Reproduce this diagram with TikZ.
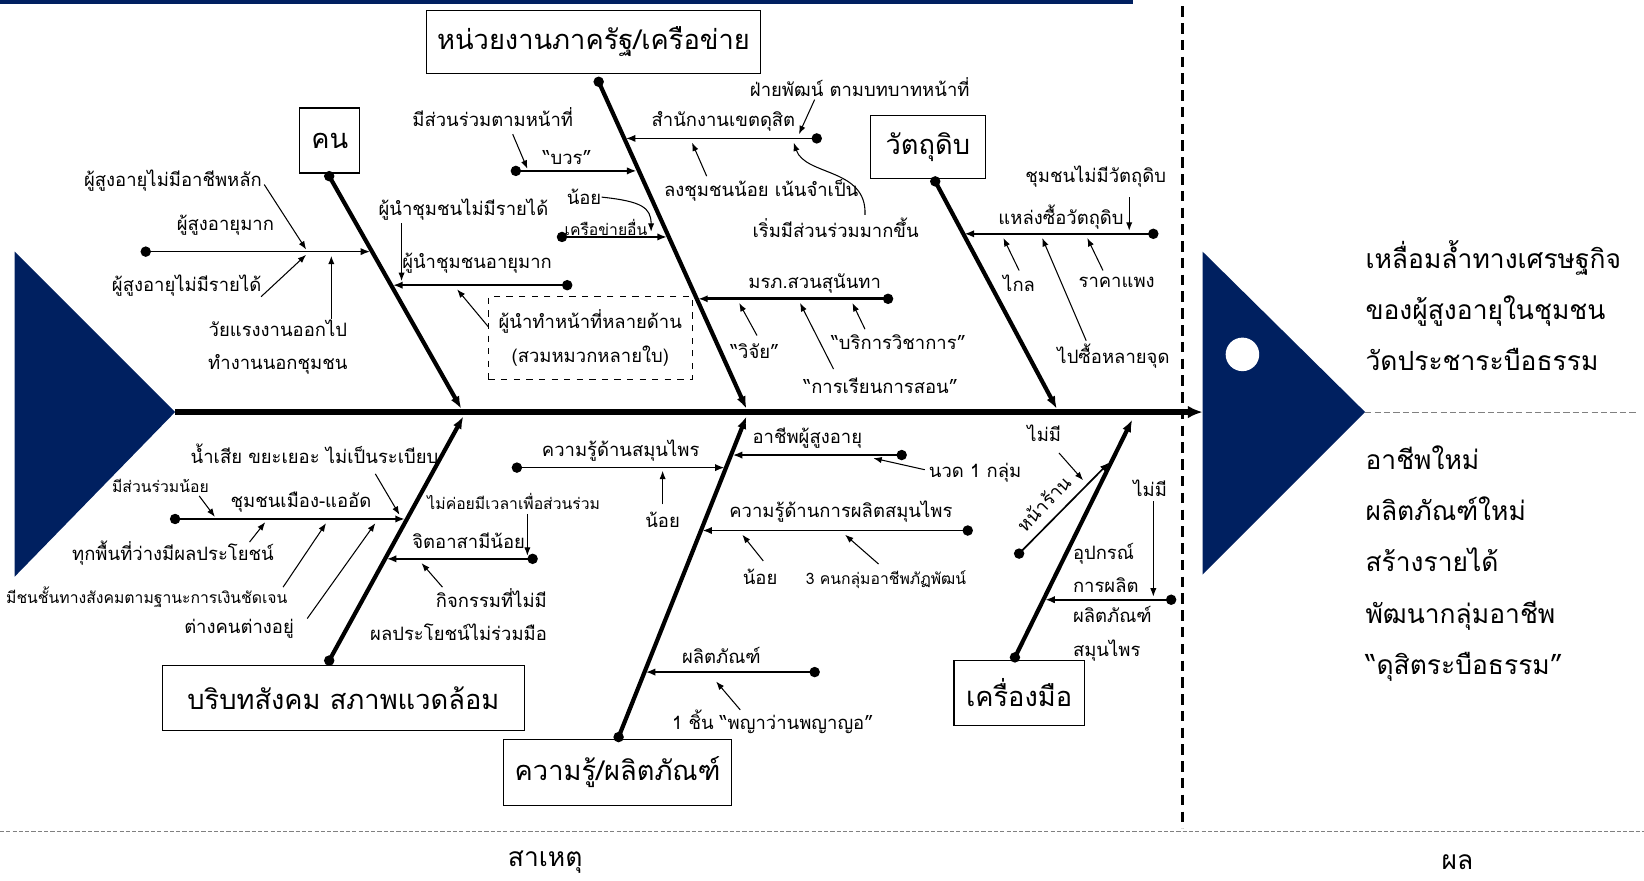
\documentclass[tikz,border=0pt]{standalone}
\usepackage{fontspec}
\setmainfont{Loma}[Script=Thai]
\usetikzlibrary{arrows.meta}
\definecolor{navy}{RGB}{0,32,96}
\newcommand\boxfont{\fontsize{13}{15}\selectfont}
\newcommand\lblfont{\fontsize{8.8}{16}\selectfont}
\newcommand\smlfont{\fontsize{7.5}{10}\selectfont}
\newcommand\effont{\fontsize{12.6}{24.4}\selectfont}

\begin{document}
\begin{tikzpicture}[x=0.5pt,y=-0.5pt]
\tikzstyle{every node}=[font=\lblfont, inner sep=0pt]
\tikzstyle{causebox}=[draw, line width=0.6pt, font=\boxfont]
\tikzstyle{bone}=[line width=2pt, -{Latex[length=6pt,width=4.5pt]}]
\tikzstyle{twig}=[line width=0.8pt, -{Latex[length=4.5pt,width=3.5pt]}]
\tikzstyle{hint}=[line width=0.5pt, -{Latex[length=4pt,width=3pt]}]
\tikzstyle{dot}=[circle, fill, minimum size=5pt]
\useasboundingbox (0,0) rectangle (1568,840);

\fill[navy] (0,0) rectangle (1081,4);
\draw[line width=1.5pt, dash pattern=on 5pt off 3pt] (1128,6) -- (1128,790);
\draw[gray, line width=0.4pt, dash pattern=on 2pt off 1pt] (0,793) -- (1568,793);
\node[font=\effont] (cause) at (520,822) {สาเหตุ};
\node[font=\effont] (effect) at (1390,822) {ผล};

% spine, tail and head
\coordinate (tailtip) at (167,393);
\coordinate (headback) at (1147,393);
\draw[line width=2.5pt, -{Latex[length=7pt,width=6pt]}] (tailtip) -- (headback);
\fill[navy] (14,240) -- (14,550) -- (tailtip) -- cycle;
\coordinate (headtip) at (1302,393);
\fill[navy] (1147,240) -- (1147,548) -- (headtip) -- cycle;
\fill[white] (1185,338) circle [radius=8pt];
\coordinate (resend) at (1562,393);
\draw[gray, line width=0.5pt, dash pattern=on 3pt off 1.5pt] (headtip) -- (resend);
\node[font=\effont, anchor=west, align=left] (gap) at (1302,291.5)
  {เหลื่อมล้ำทางเศรษฐกิจ\\ของผู้สูงอายุในชุมชน\\วัดประชาระบือธรรม};
\node[font=\effont, anchor=west, align=left] (gain) at (1302,537.5)
  {อาชีพใหม่\\ผลิตภัณฑ์ใหม่\\สร้างรายได้\\พัฒนากลุ่มอาชีพ\\“ดุสิตระบือธรรม”};

% cause boxes
\node[causebox, minimum width=159pt, minimum height=30pt] (gov) at (566,40) {หน่วยงานภาครัฐ/เครือข่าย};
\node[causebox, minimum width=28.5pt, minimum height=31pt] (people) at (314.5,134) {คน};
\node[causebox, minimum width=55pt, minimum height=30pt] (raw) at (885,140) {วัตถุดิบ};
\node[causebox, minimum width=172.5pt, minimum height=31pt] (social) at (327.5,666) {บริบทสังคม สภาพแวดล้อม};
\node[causebox, minimum width=109pt, minimum height=31.5pt] (know) at (589,736.5) {ความรู้/ผลิตภัณฑ์};
\node[causebox, minimum width=62pt, minimum height=31pt] (tool) at (972,661) {เครื่องมือ};

% bones
\node[dot] (pb) at (314,168) {};
\node[dot] (gb) at (571,78) {};
\node[dot] (rb) at (892,173) {};
\node[dot] (sb) at (314,630) {};
\node[dot] (kb) at (590,703) {};
\node[dot] (tb) at (968,627) {};
\coordinate (pe) at (440,390);
\coordinate (ge) at (712,390);
\coordinate (re) at (1008,390);
\coordinate (se) at (442,397);
\coordinate (ke) at (712,397);
\coordinate (te) at (1080,400);
\draw[bone] (pb.center) -- (pe);
\draw[bone] (gb.center) -- (ge);
\draw[bone] (rb.center) -- (re);
\draw[bone] (sb.center) -- (se);
\draw[bone] (kb.center) -- (ke);
\draw[bone] (tb.center) -- (te);

% คน
\node[dot] (p1) at (139,240) {};
\coordinate (p1e) at (353,240);
\draw[twig] (p1.center) -- (p1e);
\node (p1t) at (215,215) {ผู้สูงอายุมาก};
\node (p1a) at (165,172) {ผู้สูงอายุไม่มีอาชีพหลัก};
\node (p1b) at (178,272) {ผู้สูงอายุไม่มีรายได้};
\node[align=center] (p1c) at (265,331) {วัยแรงงานออกไป\\ทำงานนอกชุมชน};
\coordinate (p1ax) at (252,176); \coordinate (p1ay) at (292,238);
\coordinate (p1bx) at (249,283); \coordinate (p1by) at (292,243);
\coordinate (p1cx) at (316,304); \coordinate (p1cy) at (316,244);
\draw[hint] (p1ax) -- (p1ay);
\draw[hint] (p1bx) -- (p1by);
\draw[hint] (p1cx) -- (p1cy);
\node[dot] (p2) at (541,272) {};
\coordinate (p2e) at (375,272);
\draw[twig] (p2.center) -- (p2e);
\node (p2t) at (455,251) {ผู้นำชุมชนอายุมาก};
\node (p2a) at (442,200) {ผู้นำชุมชนไม่มีรายได้};
\coordinate (p2ax) at (383,213); \coordinate (p2ay) at (383,268);
\draw[hint] (p2ax) -- (p2ay);
\node[draw, dashed, line width=0.4pt, align=center, minimum width=97pt, minimum height=39.5pt] (p2b) at (563,322.5) {ผู้นำทำหน้าที่หลายด้าน\\(สวมหมวกหลายใบ)};
\coordinate (p2bx) at (466,312); \coordinate (p2by) at (436,276);
\draw[hint] (p2bx) -- (p2by);

% หน่วยงานภาครัฐ
\node[dot] (g1) at (492,163) {};
\coordinate (g1e) at (607,163);
\draw[twig] (g1.center) -- (g1e);
\node (g1t) at (541,150) {“บวร”};
\node (g1a) at (470,112) {มีส่วนร่วมตามหน้าที่};
\coordinate (g1ax) at (489,128); \coordinate (g1ay) at (503,161);
\draw[hint] (g1ax) -- (g1ay);
\node[dot] (g2) at (536,226) {};
\coordinate (g2e) at (636,226);
\draw[twig] (g2.center) -- (g2e);
\node[font=\smlfont] (g2t) at (578,217) {เครือข่ายอื่น};
\node (g2a) at (557,188) {น้อย};
\coordinate (g2ay) at (621,221);
\draw[hint] (g2a.east) .. controls (612,192) and (621,198) .. (g2ay);
\node[dot] (g3) at (779,132) {};
\coordinate (g3e) at (597,132);
\draw[twig] (g3.center) -- (g3e);
\node (g3t) at (690,116) {สำนักงานเขตดุสิต};
\node (g3a) at (820,83) {ฝ่ายพัฒน์ ตามบทบาทหน้าที่};
\node (g3b) at (726,182) {ลงชุมชนน้อย เน้นจำเป็น};
\node (g3c) at (797,217) {เริ่มมีส่วนร่วมมากขึ้น};
\coordinate (g3ax) at (777,95); \coordinate (g3ay) at (762,128);
\coordinate (g3bx) at (674,168); \coordinate (g3by) at (660,136);
\coordinate (g3cx) at (825,205); \coordinate (g3cy) at (757,136);
\draw[hint] (g3ax) -- (g3ay);
\draw[hint] (g3bx) -- (g3by);
\draw[hint] (g3cx) .. controls (827,160) and (768,168) .. (g3cy);
\node[dot] (g4) at (847,285) {};
\coordinate (g4e) at (666,285);
\draw[twig, line width=1.3pt] (g4.center) -- (g4e);
\node (g4t) at (777,270) {มรภ.สวนสุนันทา};
\node (g4a) at (720,335) {“วิจัย”};
\node (g4b) at (857,326) {“บริการวิชาการ”};
\node (g4c) at (840,368) {“การเรียนการสอน”};
\coordinate (g4ax) at (722,320); \coordinate (g4ay) at (705,289);
\coordinate (g4bx) at (825,314); \coordinate (g4by) at (813,289);
\coordinate (g4cx) at (795,352); \coordinate (g4cy) at (763,289);
\draw[hint] (g4ax) -- (g4ay);
\draw[hint] (g4bx) -- (g4by);
\draw[hint] (g4cx) -- (g4cy);

% วัตถุดิบ
\node[dot] (r1) at (1100,223) {};
\coordinate (r1e) at (920,223);
\draw[twig] (r1.center) -- (r1e);
\node (r1t) at (1012,207) {แหล่งซื้อวัตถุดิบ};
\node (r1a) at (1045,168) {ชุมชนไม่มีวัตถุดิบ};
\node (r1b) at (972,270) {ไกล};
\node (r1c) at (1065,269) {ราคาแพง};
\node (r1d) at (1062,340) {ไปซื้อหลายจุด};
\coordinate (r1ax) at (1077,188); \coordinate (r1ay) at (1077,220);
\coordinate (r1bx) at (972,258); \coordinate (r1by) at (957,227);
\coordinate (r1cx) at (1052,258); \coordinate (r1cy) at (1037,227);
\coordinate (r1dx) at (1036,325); \coordinate (r1dy) at (994,227);
\draw[hint] (r1ax) -- (r1ay);
\draw[hint] (r1bx) -- (r1by);
\draw[hint] (r1cx) -- (r1cy);
\draw[hint] (r1dx) -- (r1dy);

% บริบทสังคม
\node[dot] (s1) at (167,495) {};
\coordinate (s1e) at (386,495);
\draw[twig] (s1.center) -- (s1e);
\node (s1t) at (287,479) {ชุมชนเมือง-แออัด};
\node (s1a) at (300,433) {น้ำเสีย ขยะเยอะ ไม่เป็นระเบียบ};
\node[font=\smlfont] (s1b) at (153,463) {มีส่วนร่วมน้อย};
\node (s1c) at (165,528) {ทุกพื้นที่ว่างมีผลประโยชน์};
\node[font=\smlfont] (s1d) at (140,570) {มีชนชั้นทางสังคมตามฐานะการเงินชัดเจน};
\node (s1e2) at (228,600) {ต่างคนต่างอยู่};
\coordinate (s1ax) at (358,452); \coordinate (s1ay) at (381,491);
\coordinate (s1bx) at (190,473); \coordinate (s1by) at (205,493);
\coordinate (s1cx) at (238,517); \coordinate (s1cy) at (253,498);
\coordinate (s1dx) at (270,560); \coordinate (s1dy) at (311,499);
\coordinate (s1ex) at (293,590); \coordinate (s1ey) at (358,499);
\draw[hint] (s1ax) -- (s1ay);
\draw[hint] (s1bx) -- (s1by);
\draw[hint] (s1cx) -- (s1cy);
\draw[hint] (s1dx) -- (s1dy);
\draw[hint] (s1ex) -- (s1ey);
\node[dot] (s2) at (508,533) {};
\coordinate (s2e) at (369,533);
\draw[twig] (s2.center) -- (s2e);
\node (s2t) at (447,516) {จิตอาสามีน้อย};
\node[font=\smlfont] (s2a) at (490,478) {ไม่ค่อยมีเวลาเพื่อส่วนร่วม};
\node[align=right, anchor=east] (s2b) at (522,586) {กิจกรรมที่ไม่มี\\ผลประโยชน์ไม่ร่วมมือ};
\coordinate (s2ax) at (503,490); \coordinate (s2ay) at (503,530);
\coordinate (s2bx) at (422,560); \coordinate (s2by) at (402,537);
\draw[hint] (s2ax) -- (s2ay);
\draw[hint] (s2bx) -- (s2by);

% ความรู้/ผลิตภัณฑ์
\node[dot] (k1) at (860,434) {};
\coordinate (k1e) at (699,434);
\draw[twig] (k1.center) -- (k1e);
\node (k1t) at (770,418) {อาชีพผู้สูงอายุ};
\node (k1a) at (930,451) {นวด 1 กลุ่ม};
\coordinate (k1ax) at (882,448); \coordinate (k1ay) at (833,437);
\draw[hint] (k1ax) -- (k1ay);
\node[dot] (k2) at (493,446) {};
\coordinate (k2e) at (691,446);
\draw[twig] (k2.center) -- (k2e);
\node (k2t) at (592,430) {ความรู้ด้านสมุนไพร};
\node (k2a) at (632,496) {น้อย};
\coordinate (k2ax) at (632,481); \coordinate (k2ay) at (632,449);
\draw[hint] (k2ax) -- (k2ay);
\node[dot] (k3) at (923,506) {};
\coordinate (k3e) at (670,506);
\draw[twig] (k3.center) -- (k3e);
\node (k3t) at (802,488) {ความรู้ด้านการผลิตสมุนไพร};
\node (k3a) at (725,550) {น้อย};
\node[font=\smlfont] (k3b) at (845,553) {3 คนกลุ่มอาชีพภัฏพัฒน์};
\coordinate (k3ax) at (728,535); \coordinate (k3ay) at (708,510);
\coordinate (k3bx) at (838,538); \coordinate (k3by) at (806,510);
\draw[hint] (k3ax) -- (k3ay);
\draw[hint] (k3bx) -- (k3by);
\node[dot] (k4) at (777,641) {};
\coordinate (k4e) at (616,641);
\draw[twig] (k4.center) -- (k4e);
\node (k4t) at (688,625) {ผลิตภัณฑ์};
\node (k4a) at (737,688) {1 ชิ้น “พญาว่านพญาญอ”};
\coordinate (k4ax) at (706,677); \coordinate (k4ay) at (683,650);
\draw[hint] (k4ax) -- (k4ay);

% เครื่องมือ
\node[dot] (t1) at (972,528) {};
\coordinate (t1e) at (1058,441);
\draw[twig] (t1.center) -- (t1e);
\node[rotate=46] (t1t) at (995,480) {หน้าร้าน};
\node (t1a) at (996,413) {ไม่มี};
\coordinate (t1ax) at (1010,432); \coordinate (t1ay) at (1033,458);
\draw[hint] (t1ax) -- (t1ay);
\node[dot] (t2) at (1117,572) {};
\coordinate (t2e) at (997,572);
\draw[twig] (t2.center) -- (t2e);
\node[align=left, anchor=south west] (t2t) at (1023,566) {อุปกรณ์\\การผลิต};
\node[align=left, anchor=north west] (t2b) at (1023,578) {ผลิตภัณฑ์\\สมุนไพร};
\node (t2a) at (1097,466) {ไม่มี};
\coordinate (t2ax) at (1100,478); \coordinate (t2ay) at (1100,569);
\draw[hint] (t2ax) -- (t2ay);
\end{tikzpicture}
\end{document}
